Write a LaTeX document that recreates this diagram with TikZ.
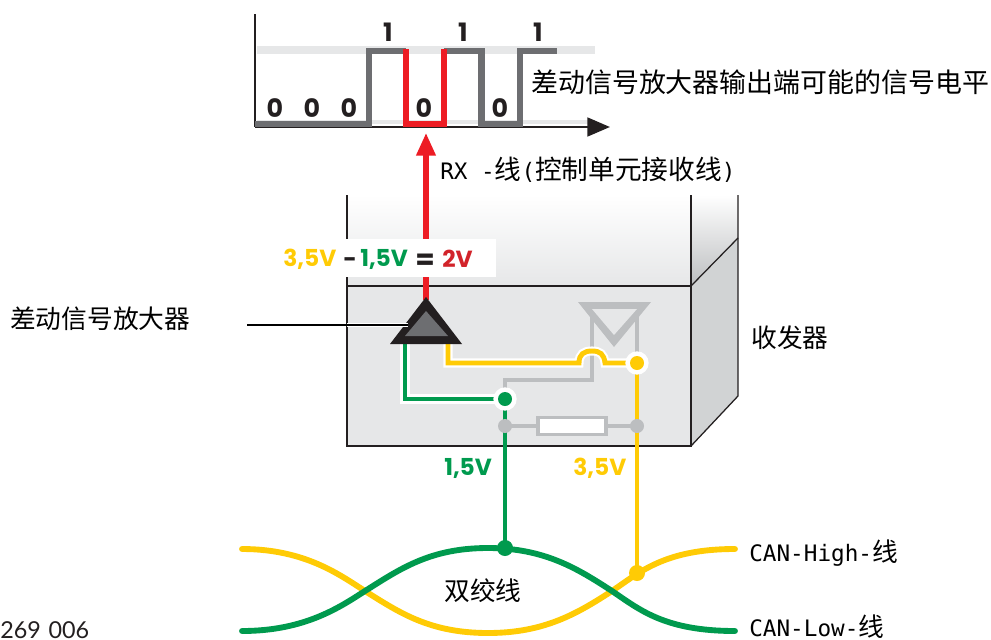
\documentclass[tikz,border=0pt]{standalone}
\usepackage{fontspec}
\setmainfont{Noto Sans CJK SC}
\newfontfamily\cjk{Noto Sans CJK SC}
\newfontfamily\mono{DejaVu Sans Mono}
\newfontfamily\hd{Poppins}
\newfontfamily\fign{Lato}
\usetikzlibrary{arrows.meta,calc}
\definecolor{cgreen}{HTML}{009A4E}
\definecolor{cyellow}{HTML}{FFCB05}
\definecolor{cred}{HTML}{ED1C24}
\definecolor{cdred}{HTML}{D2232A}
\definecolor{cgray}{HTML}{6D6E71}
\definecolor{clgray}{HTML}{BCBEC0}
\definecolor{cband}{HTML}{E6E7E8}
\definecolor{cface}{HTML}{E6E7E8}
\definecolor{cside}{HTML}{D1D3D4}
\definecolor{cdark}{HTML}{231F20}
\tikzset{
  px/.style={x=0.75pt,y=-0.75pt},
  lbl/.style={inner sep=0pt,font=\fontsize{19.3pt}{20pt}\selectfont,text=black},
  bit/.style={inner sep=0pt,font=\hd\bfseries\fontsize{19pt}{20pt}\selectfont,text=cdark},
  volt/.style={inner sep=0pt,anchor=west,font=\hd\bfseries\fontsize{17.5pt}{20pt}\selectfont},
  outline/.style={draw=cdark,line width=0.95pt},
  halo/.style={preaction={draw=white,line width=6.8pt}},
  wire/.style={line width=3.7pt,line join=miter},
  gwire/.style={line width=3.6pt,draw=clgray},
  twist/.style={line width=4.4pt,line cap=round},
  dot/.style={circle,inner sep=0pt,minimum size=#1}
}
\newcommand{\mn}[1]{{\mono\fontsize{17pt}{20pt}\selectfont #1}}
\begin{document}
\begin{tikzpicture}[px]
\useasboundingbox (0,0) rectangle (991,639);
% signal chart
\coordinate (ax0) at (255,127);
\coordinate (axtop) at (255,14);
\coordinate (axend) at (610,127);
\draw[draw=cband,line width=6pt] (257,50) -- (595,50);
\draw[draw=cband,line width=3.5pt] (257,122) -- (595,122);
\draw[draw=cdark,line width=2.2pt] (axtop) -- (ax0);
\draw[draw=cdark,line width=2.2pt,-{Triangle[length=17pt,width=14pt]}] (ax0) -- (axend);
\draw[draw=cgray,line width=4.6pt,line join=miter] (255,124) -- (369,124) -- (369,51) -- (406,51);
\draw[draw=cgray,line width=4.6pt,line join=miter] (444,51) -- (481.5,51) -- (481.5,124) -- (520,124) -- (520,51) -- (557,51);
\draw[draw=cred,line width=4.6pt,line join=miter] (406,49) -- (406,124) -- (444,124) -- (444,49);
\node[bit] (b0) at (275,108) {0};
\node[bit] (b1) at (312,108) {0};
\node[bit] (b2) at (349,108) {0};
\node[bit] (b3) at (424,108) {0};
\node[bit] (b4) at (500,108) {0};
\node[bit] (t1) at (388,32) {1};
\node[bit] (t2) at (463,32) {1};
\node[bit] (t3) at (538,32) {1};
\node[lbl,anchor=west,font=\fontsize{20.2pt}{22pt}\selectfont] (sig) at (531,82) {差动信号放大器输出端可能的信号电平};
\node[lbl,anchor=west,font=\fontsize{20pt}{22pt}\selectfont] (rx) at (440,170) {\mn{RX -}线\mn{(}控制单元接收线\mn{)}};
% transceiver box
\shade[top color=white,bottom color=cface] (347,195) rectangle (691,286);
\shade[top color=white,bottom color=clgray] (691,195) -- (738,195) -- (738,238) -- (691,286) -- cycle;
\fill[cside] (691,286) -- (738,238) -- (738,396) -- (691,446) -- cycle;
\fill[cface] (347,286) rectangle (691,446);
\draw[outline] (347,195) -- (347,446) -- (691,446) -- (691,195);
\draw[outline] (347,286) -- (691,286);
\draw[outline] (691,286) -- (738,238);
\draw[outline] (738,195) -- (738,396) -- (691,446);
% RX line
\coordinate (apex) at (426,300);
\coordinate (rxtip) at (426,133);
\draw[draw=cred,line width=3.8pt,-{Triangle[length=17pt,width=14pt]}] (apex) -- (rxtip);
% equation
\fill[white] (279,239) rectangle (496,277);
\node[volt,text=cyellow] (v1) at (283,259) {3,5V};
\node[volt,text=cdark] (vm) at (343,263) {-};
\node[volt,text=cgreen] (v2) at (360,259) {1,5V};
\node[volt,text=cdark,font=\hd\bfseries\fontsize{21pt}{20pt}\selectfont] (ve) at (415,262) {=};
\node[volt,text=cdred] (v3) at (442,259) {2V};
% grey receiver
\coordinate (gl) at (592,312);
\coordinate (gr) at (637,312);
\coordinate (jg) at (505,399);
\coordinate (jy) at (637,363);
\coordinate (r1) at (505,426);
\coordinate (r2) at (637,426);
\draw[gwire,line join=miter] (gl) -- (592,380) -- (505,380) -- (jg);
\draw[gwire] (gr) -- (jy);
\fill[clgray] (578,302) -- (651,302) -- (614,347) -- cycle;
\fill[cface] (592,309) -- (637,309) -- (614,335) -- cycle;
% wires
\draw[wire,draw=cgreen,halo] (405,343) |- (jg);
\draw[wire,draw=cyellow,halo] (448,343) |- (579,363)
  .. controls (579,354) and (584,351) .. (592,351)
  .. controls (600,351) and (604,354) .. (605,363) -- (jy);
% twisted pair
\coordinate (yl) at (242,549);
\coordinate (yr) at (735,549);
\coordinate (gnl) at (242,631);
\coordinate (gnr) at (735,631);
\coordinate (jt) at (505,548);
\coordinate (jb) at (637,573);
\draw[twist,draw=cyellow] (yl) .. controls (305,549) and (340,575) .. (365,591)
  .. controls (400,613) and (430,633) .. (488,633)
  .. controls (545,633) and (578,613) .. (612,591)
  .. controls (640,572) and (665,549) .. (yr);
\draw[twist,draw=cgreen] (gnl) .. controls (305,631) and (340,607) .. (365,591)
  .. controls (400,569) and (430,548) .. (488,548)
  .. controls (545,548) and (578,569) .. (612,591)
  .. controls (640,610) and (665,631) .. (gnr);
% verticals
\draw[wire,draw=cgreen] (jg) -- (jt);
\draw[wire,draw=cyellow] (jy) -- (jb);
\node[dot=17.5pt,fill=white] (hy) at (jy) {};
\node[dot=17.5pt,fill=white] (hg) at (jg) {};
\node[dot=10.5pt,fill=cyellow] (dy) at (jy) {};
\node[dot=10.5pt,fill=cgreen] (dg) at (jg) {};
\node[dot=12pt,fill=cgreen] (dt) at (jt) {};
\node[dot=12pt,fill=cyellow] (db) at (jb) {};
% resistor
\draw[gwire,line width=2.6pt] (r1) -- (r2);
\node[dot=10.5pt,fill=clgray] (dr1) at (r1) {};
\node[dot=10.5pt,fill=clgray] (dr2) at (r2) {};
\node[draw=clgray,line width=2.4pt,fill=white,minimum width=51pt,minimum height=13pt,inner sep=0pt] (res) at (572,426) {};
% amplifier
\fill[cdark] (426,297) -- (462,344) -- (390,344) -- cycle;
\fill[cgray] (426,311) -- (448,336) -- (405,336) -- cycle;
\node[minimum size=0pt,inner sep=0pt] (amp) at (408,325) {};
% labels
\node[lbl,anchor=west] (ampl) at (10,319) {差动信号放大器};
\coordinate (lead) at (247,325);
\draw[draw=white,line width=2.5pt] (347,325) -- (amp);
\draw[draw=black,line width=0.9pt] (lead) -- (amp);
\node[lbl,anchor=west] (xcv) at (751,338) {收发器};
\node[volt,text=cgreen] (l15) at (444,468) {1,5V};
\node[volt,text=cyellow] (l35) at (573,468) {3,5V};
\node[lbl] (tw) at (483,591) {双绞线};
\node[lbl,anchor=west] (hi) at (749,553) {\mn{CAN-High-}线};
\node[lbl,anchor=west] (lo) at (749,627) {\mn{CAN-Low-}线};
\node[inner sep=0pt,anchor=base west,font=\fign\fontsize{17.5pt}{18pt}\selectfont,text=cdark] (fig) at (0,638) {269\,\,006};
\end{tikzpicture}
\end{document}
